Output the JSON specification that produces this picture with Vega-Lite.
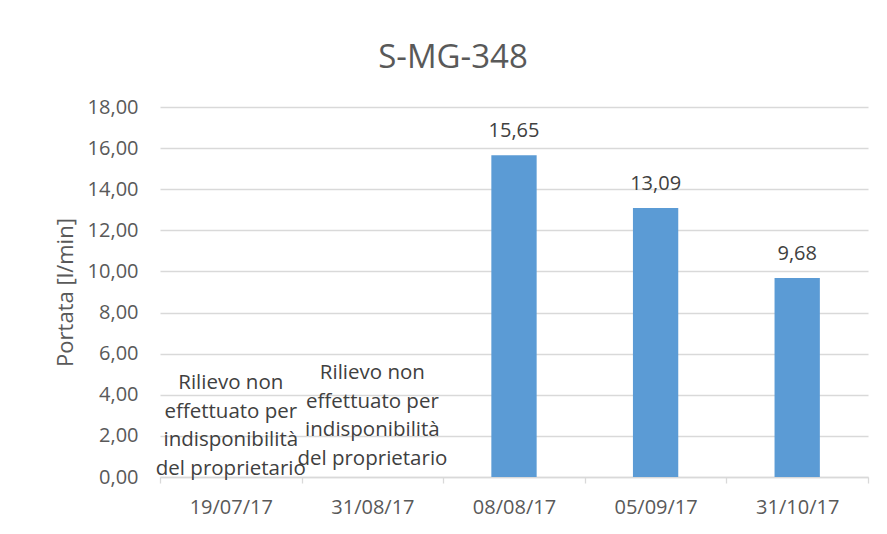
{
  "$schema": "https://vega.github.io/schema/vega-lite/v6.json",
  "width": 708,
  "height": 370,
  "autosize": {"type": "none"},
  "padding": {"left": 160, "top": 107, "right": 19, "bottom": 57},
  "background": "white",
  "title": {
    "text": "S-MG-348",
    "fontSize": 33,
    "font": "Open Sans",
    "fontWeight": "normal",
    "color": "#595959",
    "anchor": "middle",
    "frame": "group",
    "dx": -61,
    "offset": 22
  },
  "data": {
    "values": [
      {"data": "19/07/17", "portata": null, "nota": "Rilievo non\neffettuato per\nindisponibilità\ndel proprietario"},
      {"data": "31/08/17", "portata": null, "nota": "Rilievo non\neffettuato per\nindisponibilità\ndel proprietario"},
      {"data": "08/08/17", "portata": 15.65, "nota": null},
      {"data": "05/09/17", "portata": 13.09, "nota": null},
      {"data": "31/10/17", "portata": 9.68, "nota": null}
    ]
  },
  "encoding": {
    "x": {
      "field": "data",
      "type": "nominal",
      "sort": null,
      "scale": {"domain": ["19/07/17", "31/08/17", "08/08/17", "05/09/17", "31/10/17"], "paddingInner": 0, "paddingOuter": 0},
      "axis": {
        "title": null,
        "labelAngle": 0,
        "labelFont": "Open Sans",
        "labelFontSize": 20,
        "labelColor": "#595959",
        "labelPadding": 14,
        "domainColor": "#D9D9D9",
        "domainWidth": 1.3,
        "tickColor": "#D9D9D9",
        "tickWidth": 1.3,
        "tickSize": 6,
        "tickBand": "extent",
        "grid": false
      }
    }
  },
  "layer": [
    {
      "mark": {"type": "bar", "color": "#5B9BD5", "width": {"band": 0.32}},
      "encoding": {
        "y": {
          "field": "portata",
          "type": "quantitative",
          "scale": {"domain": [0, 18]},
          "axis": {
            "title": "Portata [l/min]",
            "titleFont": "Open Sans",
            "titleFontSize": 22,
            "titleFontWeight": "normal",
            "titleColor": "#595959",
            "titlePadding": 10,
            "values": [0, 2, 4, 6, 8, 10, 12, 14, 16, 18],
            "format": ".2f",
            "labelExpr": "replace(datum.label, '.', ',')",
            "labelFont": "Open Sans",
            "labelFontSize": 20,
            "labelColor": "#595959",
            "labelPadding": 22,
            "ticks": false,
            "domain": false,
            "grid": true,
            "gridColor": "#D9D9D9",
            "gridWidth": 1.3
          }
        }
      }
    },
    {
      "transform": [{"filter": "isValid(datum.portata)"}],
      "mark": {"type": "text", "baseline": "bottom", "dy": -14, "font": "Open Sans", "fontSize": 20, "color": "#404040"},
      "encoding": {
        "y": {"field": "portata", "type": "quantitative"},
        "text": {"field": "portata", "type": "quantitative", "format": ".2f", "formatType": "number"}
      }
    },
    {
      "transform": [{"filter": "datum.data === '19/07/17'"}],
      "mark": {"type": "text", "baseline": "middle", "align": "center", "lineHeight": 28.5, "dy": -94, "font": "Open Sans", "fontSize": 20.5, "color": "#404040", "lineBreak": "\n"},
      "encoding": {
        "y": {"datum": 0, "type": "quantitative"},
        "text": {"field": "nota"}
      }
    },
    {
      "transform": [{"filter": "datum.data === '31/08/17'"}],
      "mark": {"type": "text", "baseline": "middle", "align": "center", "lineHeight": 28.5, "dy": -104, "font": "Open Sans", "fontSize": 20.5, "color": "#404040", "lineBreak": "\n"},
      "encoding": {
        "y": {"datum": 0, "type": "quantitative"},
        "text": {"field": "nota"}
      }
    }
  ],
  "config": {
    "view": {"stroke": null},
    "locale": {"number": {"decimal": ",", "thousands": ".", "grouping": [3], "currency": ["€", ""]}}
  }
}
